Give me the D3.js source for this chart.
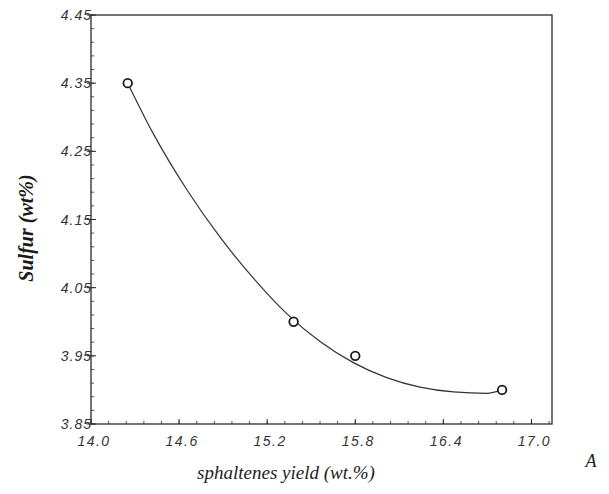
<!DOCTYPE html>
<html>
<head>
<meta charset="utf-8">
<script src="https://cdn.jsdelivr.net/npm/d3@7"></script>
<style>
  html, body { margin: 0; padding: 0; background: #fff; }
  svg { display: block; }
</style>
</head>
<body>
<svg id="chart" width="609" height="494"></svg>
<script>
// Measured samples: asphaltenes yield vs. sulfur content
const yieldValues = [14.25, 15.38, 15.80, 16.80];
const sulfurValues = [4.35, 4.00, 3.95, 3.90];

// Smooth trend line through the samples (yield, sulfur)
const trendYield = [14.25, 14.424, 14.652, 14.879, 15.106, 15.333, 15.560, 15.787, 16.014, 16.241, 16.468, 16.696, 16.80];
const trendSulfur = [4.350, 4.276, 4.194, 4.124, 4.064, 4.012, 3.971, 3.940, 3.918, 3.904, 3.897, 3.895, 3.900];

// Axis ticks
const xTicks = [14.0, 14.6, 15.2, 15.8, 16.4, 17.0];
const yTicks = [3.85, 3.95, 4.05, 4.15, 4.25, 4.35, 4.45];

const svg = d3.select("#chart");
const plotLeft = 91, plotRight = 552, plotTop = 15, plotBottom = 424;

const x = d3.scaleLinear().domain([14.0, 17.14]).range([plotLeft, plotRight]);
const y = d3.scaleLinear().domain([3.85, 4.45]).range([plotBottom, plotTop]);

const ink = "#2a2a2a";
const tickFont = "'Liberation Sans', Arial, sans-serif";
const titleFont = "'Liberation Serif', 'Times New Roman', serif";

// Minor ticks (inward)
const xMinor = d3.range(14.0, 17.14, 0.12);
const yMinor = d3.range(3.85, 4.451, 0.02);
svg.append("g").selectAll("line").data(xMinor).join("line")
  .attr("x1", d => x(d)).attr("x2", d => x(d))
  .attr("y1", plotBottom).attr("y2", plotBottom - 3)
  .attr("stroke", ink).attr("stroke-width", 0.8);
svg.append("g").selectAll("line").data(yMinor).join("line")
  .attr("x1", plotLeft).attr("x2", plotLeft + 3)
  .attr("y1", d => y(d)).attr("y2", d => y(d))
  .attr("stroke", ink).attr("stroke-width", 0.8);

// Frame
svg.append("rect")
  .attr("x", plotLeft).attr("y", plotTop)
  .attr("width", plotRight - plotLeft).attr("height", plotBottom - plotTop)
  .attr("fill", "none").attr("stroke", ink).attr("stroke-width", 1.3);

// Major ticks
svg.append("g").selectAll("line").data(yTicks).join("line")
  .attr("x1", plotLeft - 4).attr("x2", plotLeft + 5)
  .attr("y1", d => y(d)).attr("y2", d => y(d))
  .attr("stroke", ink).attr("stroke-width", 1);
svg.append("g").selectAll("line").data(xTicks).join("line")
  .attr("x1", d => x(d)).attr("x2", d => x(d))
  .attr("y1", plotBottom).attr("y2", plotBottom - 5)
  .attr("stroke", ink).attr("stroke-width", 1);

// Tick labels
svg.append("g").selectAll("text").data(yTicks).join("text")
  .attr("x", plotLeft + 1).attr("y", d => y(d) + 5)
  .attr("text-anchor", "end")
  .attr("font-family", tickFont).attr("font-style", "italic")
  .attr("font-size", 14).attr("letter-spacing", 1)
  .attr("fill", "#333")
  .text(d => d.toFixed(2));
svg.append("g").selectAll("text").data(xTicks).join("text")
  .attr("x", d => x(d) + 3).attr("y", 446)
  .attr("text-anchor", "middle")
  .attr("font-family", tickFont).attr("font-style", "italic")
  .attr("font-size", 14).attr("letter-spacing", 1.5)
  .attr("fill", "#333")
  .text(d => d.toFixed(1));

// Trend curve
const trend = trendYield.map((v, i) => [v, trendSulfur[i]]);
svg.append("path")
  .datum(trend)
  .attr("d", d3.line().x(d => x(d[0])).y(d => y(d[1])).curve(d3.curveMonotoneX))
  .attr("fill", "none").attr("stroke", "#333").attr("stroke-width", 1.2);

// Sample markers
svg.append("g").selectAll("circle").data(yieldValues.map((v, i) => [v, sulfurValues[i]])).join("circle")
  .attr("cx", d => x(d[0])).attr("cy", d => y(d[1]))
  .attr("r", 4.3)
  .attr("fill", "#fff").attr("stroke", "#1a1a1a").attr("stroke-width", 1.8);

// Axis titles
svg.append("text")
  .attr("transform", "translate(33,228) rotate(-90)")
  .attr("text-anchor", "middle")
  .attr("font-family", titleFont).attr("font-style", "italic").attr("font-weight", "bold")
  .attr("font-size", 20).attr("fill", "#1a1a1a")
  .text("Sulfur (wt%)");
svg.append("text")
  .attr("x", 286).attr("y", 479)
  .attr("text-anchor", "middle")
  .attr("font-family", titleFont).attr("font-style", "italic")
  .attr("font-size", 19).attr("fill", "#222")
  .text("sphaltenes yield (wt.%)");
svg.append("text")
  .attr("x", 591).attr("y", 467)
  .attr("text-anchor", "middle")
  .attr("font-family", titleFont).attr("font-style", "italic")
  .attr("font-size", 18).attr("fill", "#222")
  .text("A");
</script>
</body>
</html>
